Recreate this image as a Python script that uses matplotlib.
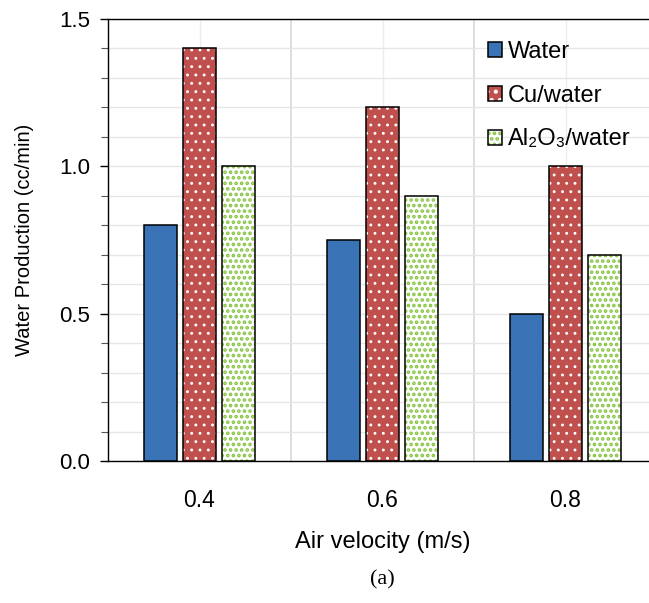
import matplotlib
matplotlib.use("Agg")
import matplotlib.pyplot as plt
import matplotlib.transforms as mtransforms
import numpy as np
from matplotlib.ticker import MultipleLocator, FixedLocator
from matplotlib.patches import Patch
from matplotlib.legend_handler import HandlerTuple

categories = ["0.4", "0.6", "0.8"]
water = [0.8, 0.75, 0.5]
cu_water = [1.4, 1.2, 1.0]
al2o3_water = [1.0, 0.9, 0.7]
series_labels = ["Water", "Cu/water", "Al\u2082O\u2083/water"]

plt.rcParams['font.family'] = ['Liberation Sans', 'DejaVu Sans']

W, H = 649, 603
fig = plt.figure(figsize=(W / 100, H / 100), dpi=100)
ax = fig.add_axes([108 / W, (H - 461) / H, 549 / W, 442 / H])

x = np.arange(len(categories))
bw = 0.18
off = 0.215
blue = '#3A72B6'
red = '#C0504D'
green = '#86C441'

# Water (solid)
ax.bar(x - off, water, bw, color=blue, edgecolor='black', linewidth=1.1, zorder=3)

# Cu/water: red with white dots
plt.rcParams['hatch.linewidth'] = 0.9
ax.bar(x, cu_water, bw, color=red, edgecolor='white', hatch='..', linewidth=0, zorder=3)
ax.bar(x, cu_water, bw, facecolor='none', edgecolor='black', linewidth=1.1, zorder=4)
h_red = Patch(facecolor=red, edgecolor='white', hatch='..', linewidth=0)

# Al2O3/water: white with green squares
plt.rcParams['hatch.linewidth'] = 1.8
ax.bar(x + off, al2o3_water, bw, color='white', edgecolor=green, hatch='...', linewidth=0, zorder=3)
ax.bar(x + off, al2o3_water, bw, facecolor='none', edgecolor='black', linewidth=1.1, zorder=4)
h_green = Patch(facecolor='white', edgecolor=green, hatch='...', linewidth=0)

ax.set_xlim(-0.5, 2.5)
ax.set_ylim(0, 1.5)
ax.set_xticks(x)
ax.set_xticklabels(categories)
ax.xaxis.set_minor_locator(FixedLocator([0.5, 1.5, 2.5]))
ax.yaxis.set_major_locator(MultipleLocator(0.5))
ax.yaxis.set_minor_locator(MultipleLocator(0.1))
ax.yaxis.set_major_formatter(matplotlib.ticker.FormatStrFormatter('%.1f'))

ax.tick_params(axis='x', which='both', length=0, pad=20, labelsize=16.5)
ax.tick_params(axis='y', which='major', length=6, width=1, direction='out', pad=7, labelsize=16)
ax.tick_params(axis='y', which='minor', length=5, width=0.8, direction='out', color='#555555')

# grid
ax.grid(True, axis='y', which='both', color='#e6e6e6', linewidth=1.0, zorder=0)
ax.grid(True, axis='x', which='major', color='#ececec', linewidth=1.0, zorder=0)
ax.grid(True, axis='x', which='minor', color='#d8d8d8', linewidth=1.2, zorder=0)
ax.set_axisbelow(True)

for s in ['left', 'bottom', 'top']:
    ax.spines[s].set_color('black')
    ax.spines[s].set_linewidth(1.0)
ax.spines['right'].set_visible(False)

ax.set_ylabel("Water Production (cc/min)", fontsize=14.5)
ax.yaxis.set_label_coords(34 / W, 0.5,
                          transform=mtransforms.blended_transform_factory(fig.transFigure, ax.transAxes))
ax.set_xlabel("Air velocity (m/s)", fontsize=17, labelpad=14)

outline = lambda: Patch(facecolor='none', edgecolor='black', linewidth=1.1)
handles = [
    Patch(facecolor=blue, edgecolor='black', linewidth=1.1),
    (h_red, outline()),
    (h_green, outline()),
]
leg = fig.legend(handles, series_labels, loc='upper left',
                 bbox_to_anchor=(488 / W, 1 - 41 / H), frameon=False,
                 fontsize=17, handlelength=0.6, handleheight=0.6,
                 handletextpad=0.25, labelspacing=0.92, borderpad=0,
                 borderaxespad=0,
                 handler_map={tuple: HandlerTuple(ndivide=1, pad=0)})

fig.text(382 / W, 1 - 580 / H, "(a)", ha='center', va='center',
         fontsize=16, family=['Liberation Serif', 'DejaVu Serif'])

fig.savefig("out.png", dpi=100)
